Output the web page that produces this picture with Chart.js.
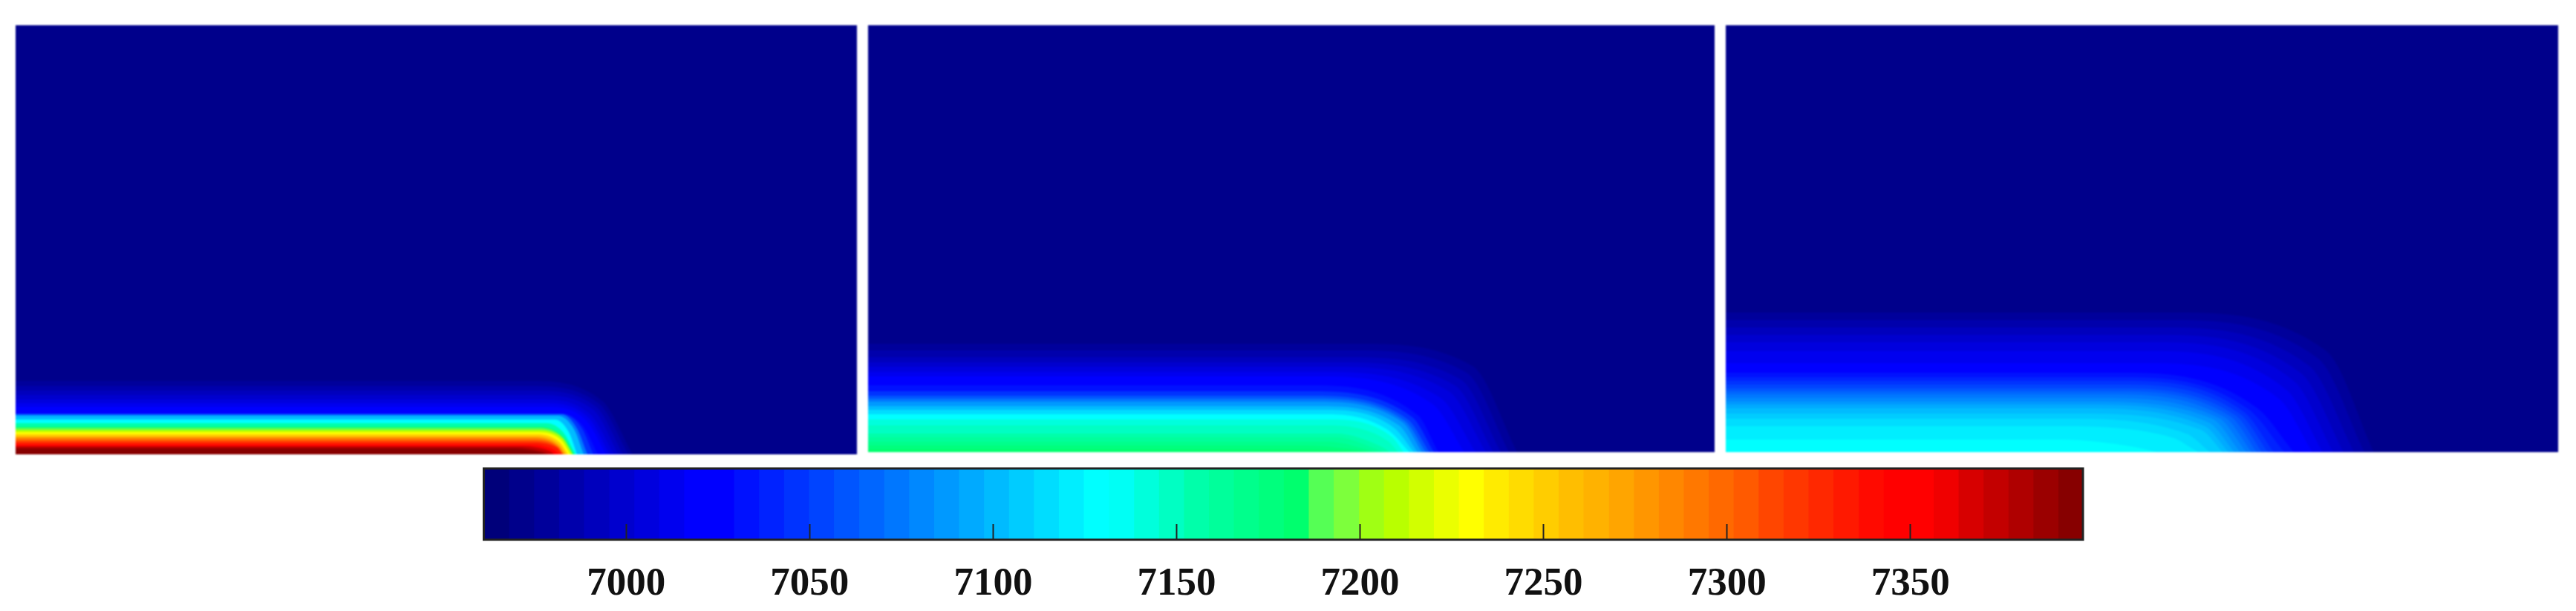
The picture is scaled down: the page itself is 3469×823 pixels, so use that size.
<!DOCTYPE html>
<html>
<head>
<meta charset="utf-8">
<script src="https://cdn.jsdelivr.net/npm/chart.js@4"></script>
<style>
  body { margin: 0; background: #fff; }
  canvas { position: absolute; }
  #panel1, #panel2, #panel3 { background: #00008b; filter: blur(0.8px); }
  #panel1 { left: 21px; top: 34px; }
  #panel2 { left: 1169px; top: 34px; }
  #panel3 { left: 2324px; top: 34px; }
  #legend { left: 600px; top: 628px; }
</style>
</head>
<body>
<canvas id="panel1" width="1133" height="578"></canvas>
<canvas id="panel2" width="1140" height="575"></canvas>
<canvas id="panel3" width="1121" height="575"></canvas>
<canvas id="legend" width="2260" height="190"></canvas>
<script>
// colour bar: band edges and band colours, tick values
const bandEdges = [6961.2, 6968.0, 6974.8, 6981.6, 6988.4, 6995.3, 7002.1, 7008.9, 7015.7, 7022.5,
  7029.3, 7036.1, 7042.9, 7049.7, 7056.5, 7063.4, 7070.2, 7077.0, 7083.8, 7090.6,
  7097.4, 7104.2, 7111.0, 7117.8, 7124.6, 7131.5, 7138.3, 7145.1, 7151.9, 7158.7,
  7165.5, 7172.3, 7179.1, 7185.9, 7192.7, 7199.6, 7206.4, 7213.2, 7220.0, 7226.8,
  7233.6, 7240.4, 7247.2, 7254.0, 7260.8, 7267.7, 7274.5, 7281.3, 7288.1, 7294.9,
  7301.7, 7308.5, 7315.3, 7322.1, 7328.9, 7335.8, 7342.6, 7349.4, 7356.2, 7363.0,
  7369.8, 7376.6, 7383.4, 7390.2, 7397.0];
const bandColors = ['#00007a', '#00008b', '#00009b', '#0000ac', '#0000bd', '#0000ce', '#0000de', '#0000ef',
  '#0000ff', '#0000ff', '#0011ff', '#0022ff', '#0033ff', '#0044ff', '#0055ff', '#0066ff',
  '#0077ff', '#0088ff', '#0099ff', '#00aaff', '#00bbff', '#00ccff', '#00ddff', '#00eeff',
  '#00ffff', '#00fff5', '#00ffdc', '#00ffc3', '#00ffaa', '#00ff9b', '#00ff8c', '#00ff7d',
  '#00ff6e', '#55ff55', '#7dff3c', '#a0ff14', '#b9ff00', '#d2ff00', '#ebff00', '#ffff00',
  '#ffeb00', '#ffdc00', '#ffcd00', '#ffbe00', '#ffb200', '#ffa500', '#ff9600', '#ff8700',
  '#ff7800', '#ff6900', '#ff5a00', '#ff4600', '#ff3700', '#ff2800', '#ff1900', '#ff0a00',
  '#ff0000', '#ff0000', '#f00000', '#d70000', '#c30000', '#af0000', '#9b0000', '#870000'];
const tickValues = [7000, 7050, 7100, 7150, 7200, 7250, 7300, 7350];

// contours, in domain units. each contour: height of the
// plateau, where the plateau ends, one point on the corner, reach along the floor
const panel1Bands = [2, 3, 4, 5, 6, 7, 8, 9, 10, 12, 16, 20, 24, 28, 32, 33, 36, 39, 42, 45, 48, 51, 54, 57, 60, 62, 63];
const panel1Top = [99, 92, 86, 80, 74, 69, 64, 59, 55, 54.5, 54, 52, 47, 42, 37, 36, 33, 30, 27, 24, 22, 19, 16, 13, 11, 9, 7];
const panel1Flat = [690, 692, 696, 700, 705, 710, 715, 725, 735, 735, 735, 730, 726, 715, 705, 704, 700, 700, 700, 698, 696, 694, 692, 688, 680, 670, 665];
const panel1KneeX = [790, 786, 782, 778, 774, 771, 769, 768, 765, 762, 756, 752, 745, 738, 737, 737, 736, 734, 733, 732, 731, 730, 729, 725, 718, 708, 703];
const panel1KneeY = [72, 68, 64, 60, 54, 50, 45, 42, 37, 36, 35, 34, 30, 29, 24, 23, 22, 20, 16, 13, 11, 10, 9, 6, 5, 4, 3];
const panel1Reach = [831, 825, 818, 812, 806, 800, 795, 790, 784, 778, 770, 765, 756, 754, 752, 751, 750, 747, 744, 741, 739, 737, 736, 732, 726, 718, 712];

const panel2Bands = [2, 3, 4, 5, 6, 7, 8, 9, 10, 12, 14, 16, 18, 20, 22, 24, 26, 27, 28, 29, 30, 31, 32];
const panel2Top = [146, 137, 128, 121, 115, 108, 102, 96, 90, 82, 76, 72, 68, 62, 57, 51, 44, 36, 25, 20, 14, 9, 4];
const panel2Flat = [660, 650, 640, 630, 620, 610, 600, 595, 590, 592, 595, 598, 600, 605, 612, 620, 620, 622, 630, 630, 620, 590, 560];
const panel2KneeX = [814, 806, 798, 790, 782, 771, 760, 750, 740, 733, 727, 723, 720, 715, 708, 700, 706, 700, 690, 680, 667, 652, 640];
const panel2KneeY = [116, 107, 98, 90, 82, 73, 65, 58, 50, 47, 44, 42, 40, 36, 33, 30, 20, 15, 8, 6, 5, 4, 2];
const panel2Reach = [874, 863, 852, 842, 832, 818, 803, 785, 768, 762, 756, 751, 746, 740, 735, 729, 721, 714, 703, 694, 685, 676, 668];

const panel3Bands = [2, 3, 4, 5, 6, 7, 8, 9, 10, 11, 12, 13, 14, 15, 16, 17, 18, 19, 20, 21, 22, 23, 24];
const panel3Top = [188, 178, 168, 158, 148, 136, 120, 113, 107, 101, 96, 91, 86, 82, 78, 73, 68, 64, 59, 52, 45, 35, 17];
const panel3Flat = [600, 590, 580, 575, 570, 565, 560, 550, 540, 535, 530, 525, 522, 520, 510, 500, 490, 482, 476, 470, 455, 440, 450];
const panel3KneeX = [809, 798, 786, 775, 765, 755, 745, 730, 715, 705, 698, 692, 686, 680, 672, 664, 655, 650, 645, 640, 620, 600, 550];
const panel3KneeY = [136, 126, 116, 106, 96, 84, 72, 66, 60, 57, 54, 52, 50, 48, 47, 46, 45, 40, 35, 30, 25, 20, 7];
const panel3Reach = [873, 860, 846, 832, 818, 804, 790, 777, 765, 752, 738, 730, 722, 715, 708, 701, 693, 685, 677, 669, 652, 636, 580];

// one filled line per contour, hottest band painted last
function createPanel(id, bands, top, flat, kneeX, kneeY, reach) {
    const canvas = document.getElementById(id);
    const datasets = bands.map((band, i) => ({
        data: [
            { x: 0, y: top[i] },
            { x: flat[i], y: top[i] },
            { x: kneeX[i], y: kneeY[i] },
            { x: reach[i], y: 0 }
        ],
        order: -band,
        backgroundColor: bandColors[band],
        borderWidth: 0,
        pointRadius: 0,
        cubicInterpolationMode: 'monotone',
        fill: 'origin'
    }));
    new Chart(canvas, {
        type: 'line',
        data: { datasets },
        options: {
            responsive: false,
            animation: false,
            devicePixelRatio: 1,
            layout: { padding: 0 },
            plugins: { legend: { display: false }, tooltip: { enabled: false } },
            scales: {
                x: { type: 'linear', display: false, min: 0, max: canvas.width },
                y: { type: 'linear', display: false, min: 0, max: canvas.height }
            }
        }
    });
}

createPanel('panel1', panel1Bands, panel1Top, panel1Flat, panel1KneeX, panel1KneeY, panel1Reach);
createPanel('panel2', panel2Bands, panel2Top, panel2Flat, panel2KneeX, panel2KneeY, panel2Reach);
createPanel('panel3', panel3Bands, panel3Top, panel3Flat, panel3KneeX, panel3KneeY, panel3Reach);

// black frame round the colour bar
const frame = {
    id: 'frame',
    afterDatasetsDraw(chart) {
        const { ctx, chartArea: a } = chart;
        ctx.save();
        ctx.strokeStyle = '#222';
        ctx.lineWidth = 3;
        ctx.strokeRect(a.left, a.top, a.right - a.left, a.bottom - a.top);
        ctx.restore();
    }
};

new Chart(document.getElementById('legend'), {
    type: 'bar',
    data: {
        labels: ['temperature'],
        datasets: bandColors.map((color, i) => ({
            data: [[bandEdges[i], bandEdges[i + 1]]],
            backgroundColor: color,
            borderWidth: 0,
            inflateAmount: 0.6,
            barPercentage: 1,
            categoryPercentage: 1,
            grouped: false
        }))
    },
    options: {
        indexAxis: 'y',
        responsive: false,
        animation: false,
        devicePixelRatio: 1,
        layout: { padding: { left: 51.5, right: 55, top: 3, bottom: 0 } },
        plugins: { legend: { display: false }, tooltip: { enabled: false } },
        scales: {
            y: { display: false },
            x: {
                type: 'linear',
                position: 'bottom',
                min: bandEdges[0],
                max: bandEdges[bandEdges.length - 1],
                afterFit(scale) { scale.height = 91; },
                afterBuildTicks(scale) { scale.ticks = tickValues.map(v => ({ value: v })); },
                border: { display: false },
                grid: { drawOnChartArea: false, tickLength: -21, tickWidth: 2, tickColor: '#222', z: 1 },
                ticks: {
                    autoSkip: false,
                    maxRotation: 0,
                    padding: 50,
                    color: '#111',
                    font: { family: '"Liberation Serif"', weight: 'bold', size: 53 },
                    callback: v => String(v)
                }
            }
        }
    },
    plugins: [frame]
});
</script>
</body>
</html>
